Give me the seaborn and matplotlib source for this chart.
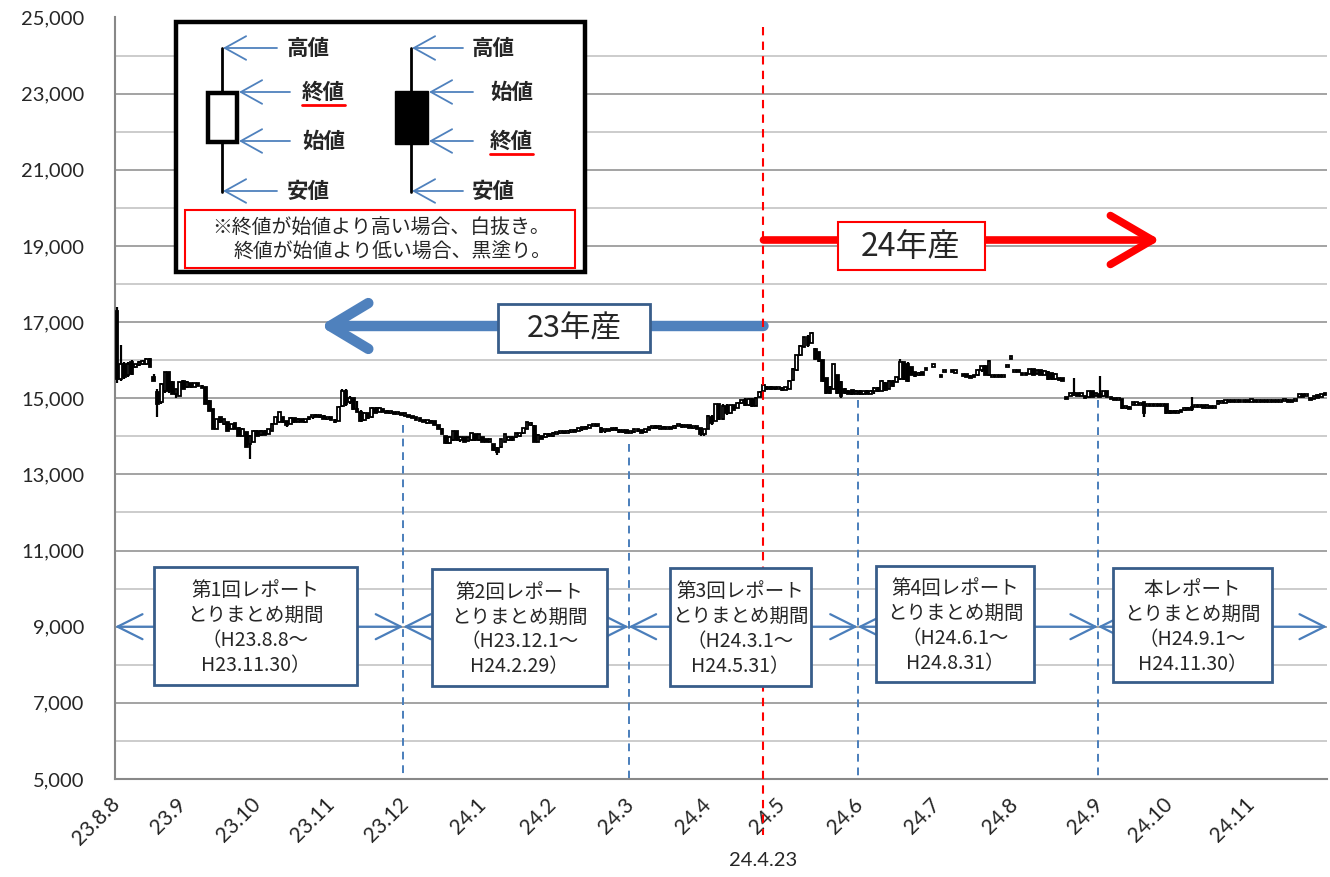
import numpy as np
import pandas as pd
import matplotlib
matplotlib.use("Agg")
import matplotlib.pyplot as plt
import seaborn as sns
from matplotlib.patches import Rectangle
from matplotlib.lines import Line2D
from matplotlib.transforms import blended_transform_factory
from matplotlib.ticker import FuncFormatter, MultipleLocator

# exchange holidays inside the period (weekends are skipped anyway)
holidays = ["2011-09-19", "2011-09-23", "2011-10-10", "2011-11-03", "2011-11-23",
            "2011-12-23", "2012-01-02", "2012-01-03", "2012-01-09", "2012-03-20",
            "2012-04-30", "2012-05-03", "2012-05-04", "2012-07-16", "2012-09-17",
            "2012-10-08", "2012-11-23"]

# daily (open, high, low, close), None = no trade that day
aug11 = [(17300, 17400, 15400, 15500), (15500, 16390, 15450, 15900), (15900, 15950, 15500, 15550),
         (15600, 15950, 15550, 15900), (15950, 16000, 15600, 15650), (15830, 15900, 15800, 15890),
         (15870, 15970, 15850, 15960), (15900, 16000, 15880, 15980), (15890, 16050, 15880, 16040),
         (16040, 16060, 15820, 15830), (15550, 15630, 15450, 15460), (15160, 15240, 14500, 14850),
         (14890, 15400, 14850, 15370), (15200, 15700, 15150, 15690), (15690, 15700, 15150, 15200),
         (15420, 15450, 15100, 15110), (15100, 15250, 15000, 15240), (15070, 15430, 15050, 15420)]
sep11 = [(15460, 15480, 15230, 15240), (15290, 15440, 15280, 15430), (15390, 15400, 15280, 15290),
         (15300, 15400, 15290, 15390), (15390, 15400, 15320, 15330), (15330, 15360, 15260, 15270),
         (15290, 15300, 14840, 14850), (14930, 14950, 14660, 14670), (14720, 14730, 14180, 14190),
         (14200, 14460, 14180, 14450), (14500, 14510, 14360, 14370), (14320, 14460, 14310, 14450),
         (14370, 14380, 14140, 14150), (14190, 14330, 14180, 14320), (14340, 14350, 14180, 14190),
         (14230, 14240, 14010, 14020), (14020, 14210, 14000, 14200), (14110, 14120, 13710, 13720),
         (13800, 14030, 13400, 14020), (13850, 14160, 13840, 14150)]
oct11 = [(14150, 14160, 14010, 14020), (14030, 14160, 14020, 14150), (14150, 14160, 14030, 14040),
         (14060, 14200, 14050, 14190), (14150, 14340, 14140, 14330), (14330, 14510, 14320, 14500),
         (14370, 14640, 14360, 14630), (14500, 14510, 14360, 14370), (14400, 14410, 14250, 14300),
         (14330, 14500, 14320, 14480), (14480, 14490, 14360, 14380), (14380, 14470, 14370, 14460),
         (14450, 14460, 14370, 14380), (14380, 14460, 14360, 14450), (14450, 14510, 14440, 14500),
         (14500, 14560, 14450, 14550), (14550, 14580, 14500, 14510), (14510, 14560, 14480, 14540),
         (14540, 14550, 14450, 14460), (14460, 14520, 14440, 14500)]
nov11 = [(14500, 14510, 14430, 14440), (14440, 14450, 14360, 14380), (14400, 14800, 14390, 14780),
         (14800, 15250, 14780, 15200), (15200, 15230, 14800, 14850), (14900, 15050, 14850, 15000),
         (15000, 15010, 14700, 14720), (14720, 14940, 14630, 14650), (14650, 14680, 14380, 14400),
         (14420, 14630, 14400, 14600), (14600, 14620, 14450, 14480), (14500, 14760, 14490, 14740),
         (14740, 14770, 14600, 14620), (14650, 14760, 14640, 14750), (14720, 14730, 14640, 14650),
         (14660, 14680, 14600, 14620), (14620, 14660, 14580, 14640), (14630, 14640, 14580, 14600),
         (14600, 14650, 14590, 14630), (14600, 14620, 14550, 14570)]
dec11 = [(14570, 14600, 14540, 14580), (14560, 14570, 14500, 14520), (14520, 14540, 14470, 14490),
         (14480, 14500, 14440, 14460), (14460, 14480, 14400, 14420), (14430, 14440, 14370, 14380),
         (14380, 14420, 14320, 14400), (14400, 14420, 14360, 14370), (14400, 14410, 14300, 14310),
         (14300, 14310, 14180, 14200), (14200, 14210, 14050, 14060), (14000, 14010, 13800, 13820),
         (13830, 14000, 13800, 13990), (13900, 14150, 13890, 14140), (14140, 14150, 13880, 13900),
         (13900, 14000, 13840, 13990), (13980, 13990, 13840, 13860), (13880, 13980, 13870, 13970),
         (13900, 14100, 13890, 14090), (14060, 14070, 13890, 13900), (13900, 14060, 13890, 14050)]
jan12 = [(13970, 13980, 13840, 13850), (13930, 13940, 13840, 13850), (13850, 13930, 13840, 13920),
         (13800, 13810, 13620, 13640), (13700, 13710, 13500, 13600), (13710, 13930, 13700, 13920),
         (13850, 14060, 13840, 14050), (13900, 14000, 13880, 13990), (13990, 14000, 13890, 13900),
         (13970, 14100, 13960, 14090), (14000, 14100, 13980, 14080), (14080, 14230, 14060, 14220),
         (14200, 14380, 14190, 14370), (14300, 14380, 14280, 14350), (14280, 14290, 13840, 13860),
         (13860, 14060, 13850, 14040), (14000, 14010, 13920, 13940), (13970, 14080, 13960, 14070),
         (14070, 14100, 13980, 14000)]
feb12 = [(14000, 14110, 13990, 14100), (14060, 14120, 14050, 14110), (14100, 14150, 14060, 14140),
         (14140, 14150, 14070, 14080), (14090, 14160, 14080, 14150), (14120, 14170, 14100, 14160),
         (14160, 14180, 14110, 14130), (14150, 14230, 14140, 14220), (14220, 14240, 14150, 14200),
         (14200, 14260, 14190, 14250), (14240, 14290, 14230, 14280), (14280, 14330, 14260, 14320),
         (14320, 14330, 14250, 14260), (14230, 14240, 14100, 14120), (14140, 14200, 14100, 14180),
         (14180, 14200, 14140, 14160), (14160, 14230, 14150, 14220), (14220, 14240, 14150, 14170),
         (14170, 14180, 14100, 14120), (14130, 14160, 14100, 14150), (14150, 14160, 14100, 14110)]
mar12 = [(14110, 14140, 14090, 14130), (14130, 14190, 14100, 14180), (14180, 14200, 14120, 14140),
         (14140, 14160, 14100, 14110), (14110, 14200, 14100, 14190), (14190, 14230, 14180, 14220),
         (14220, 14280, 14200, 14270), (14270, 14290, 14200, 14220), (14220, 14270, 14210, 14250),
         (14240, 14260, 14190, 14200), (14200, 14250, 14190, 14240), (14240, 14250, 14200, 14210),
         (14210, 14290, 14200, 14280), (14280, 14320, 14260, 14300), (14300, 14320, 14230, 14250),
         (14250, 14290, 14240, 14280), (14280, 14300, 14220, 14230), (14230, 14260, 14200, 14250),
         (14250, 14260, 14200, 14220), (14220, 14230, 14020, 14050), (14060, 14200, 14000, 14190)]
apr12 = [(14190, 14550, 14180, 14540), (14500, 14560, 14300, 14350), (14400, 14850, 14390, 14840),
         (14840, 14850, 14420, 14450), (14450, 14840, 14420, 14800), (14800, 14850, 14560, 14600),
         (14600, 14830, 14590, 14820), (14820, 14830, 14690, 14700), (14750, 14900, 14740, 14880),
         (14880, 14960, 14850, 14950), (14950, 15010, 14800, 14820), (14820, 15000, 14800, 14990),
         (14990, 15010, 14780, 14790), (14800, 15020, 14790, 15000), (15040, 15180, 15030, 15170),
         (15200, 15350, 15190, 15340), (15300, 15330, 15210, 15230), (15230, 15310, 15220, 15300),
         (15280, 15300, 15220, 15240), (15240, 15300, 15230, 15280)]
may12 = [(15260, 15290, 15200, 15220), (15220, 15300, 15210, 15290), (15250, 15470, 15240, 15460),
         (15470, 15790, 15460, 15780), (15730, 16140, 15720, 16130), (16130, 16400, 16100, 16380),
         (16350, 16620, 16340, 16600), (16600, 16650, 16350, 16400), (16450, 16740, 16440, 16720),
         (16300, 16320, 16000, 16020), (16210, 16220, 15950, 15970), (16000, 16010, 15430, 15450),
         (15520, 15530, 15110, 15130), (15300, 15310, 15120, 15140), (15250, 15910, 15240, 15900),
         (15600, 15620, 15120, 15140), (15430, 15450, 15000, 15050), (15250, 15260, 15110, 15130),
         (15200, 15210, 15110, 15120), (15210, 15220, 15080, 15100), (15120, 15210, 15100, 15200)]
jun12 = [(15200, 15210, 15080, 15100), (15100, 15200, 15090, 15180), (15180, 15210, 15100, 15120),
         (15120, 15220, 15110, 15200), (15200, 15300, 15120, 15280), (15280, 15290, 15170, 15200),
         (15200, 15470, 15190, 15450), (15400, 15420, 15200, 15220), (15250, 15470, 15240, 15460),
         (15450, 15480, 15300, 15320), (15430, 15560, 15420, 15550), (15500, 16040, 15490, 15950),
         (15950, 15960, 15470, 15500), (15900, 15950, 15430, 15460), (15820, 15830, 15600, 15620),
         (15690, 15700, 15560, 15580), (15600, 15690, 15580, 15670), (15680, 15700, 15600, 15620),
         (15760, 15800, 15750, 15780), None, (15860, 15870, 15850, 15860)]
jul12 = [None, (15580, 15590, 15570, 15580), (15720, 15740, 15710, 15730), None,
         (15710, 15720, 15690, 15710), (15700, 15720, 15690, 15700), None,
         (15620, 15630, 15590, 15600), (15600, 15610, 15580, 15590), (15560, 15600, 15530, 15550),
         (15560, 15620, 15550, 15600), (15600, 15760, 15590, 15750), (15750, 15860, 15700, 15850),
         (15850, 15870, 15600, 15620), (15600, 16000, 15590, 15990), (15580, 15590, 15570, 15580),
         (15580, 15590, 15570, 15580), (15580, 15590, 15570, 15580), (15580, 15590, 15570, 15580),
         (15840, 15850, 15830, 15840), (16070, 16080, 16060, 16070)]
aug12 = [(15720, 15730, 15710, 15720), (15720, 15730, 15700, 15710), (15650, 15660, 15600, 15610),
         (15620, 15660, 15600, 15650), (15650, 15780, 15640, 15770), (15770, 15780, 15600, 15620),
         (15640, 15740, 15630, 15730), (15730, 15740, 15600, 15610), (15620, 15730, 15610, 15720),
         (15700, 15720, 15480, 15500), (15660, 15670, 15480, 15500), (15500, 15660, 15490, 15650),
         (15530, 15540, 15470, 15490), (15500, 15520, 15470, 15480), (15010, 15020, 14990, 15000),
         (15060, 15150, 15050, 15140), (15150, 15530, 15060, 15080), (15140, 15150, 15060, 15070),
         (15070, 15150, 15060, 15140), (15060, 15070, 15000, 15010), (15020, 15190, 15010, 15180),
         (15180, 15190, 15020, 15040), (15060, 15150, 15050, 15140)]
sep12 = [(15100, 15580, 15020, 15050), (15050, 15190, 15040, 15180), (15180, 15190, 15020, 15040),
         (15020, 15030, 14980, 15000), (15000, 15010, 14950, 14960), (14980, 15000, 14950, 14990),
         (14970, 14980, 14720, 14740), (14740, 14800, 14720, 14790), (14760, 14800, 14720, 14730),
         (14840, 14890, 14830, 14880), (14860, 14870, 14850, 14860), (14850, 14880, 14840, 14850),
         (14890, 14900, 14500, 14600), (14830, 14840, 14820, 14830), (14830, 14840, 14820, 14830),
         (14830, 14840, 14820, 14830), (14830, 14840, 14820, 14830), (14830, 14840, 14820, 14830),
         (14850, 14860, 14590, 14600)]
oct12 = [(14620, 14680, 14590, 14660), (14660, 14680, 14600, 14610), (14620, 14680, 14610, 14670),
         (14670, 14680, 14640, 14650), (14680, 14760, 14670, 14750), (14740, 14760, 14700, 14710),
         (14720, 15030, 14670, 14760), (14780, 14830, 14770, 14820), (14800, 14830, 14790, 14810),
         (14790, 14810, 14760, 14780), (14780, 14800, 14760, 14790), (14790, 14800, 14740, 14750),
         (14750, 14800, 14740, 14790), (14860, 14950, 14850, 14940), (14900, 14950, 14890, 14910),
         (14900, 14950, 14890, 14930), (14920, 14950, 14900, 14940), (14930, 14950, 14900, 14910),
         (14910, 14950, 14900, 14940), (14940, 14950, 14910, 14920), (14920, 14950, 14910, 14940),
         (14940, 14960, 14920, 14930)]
nov12 = [(14930, 14960, 14920, 14950), (14950, 14960, 14910, 14920), (14920, 14960, 14910, 14950),
         (14940, 14960, 14920, 14930), (14930, 14950, 14900, 14920), (14920, 14960, 14910, 14950),
         (14940, 14960, 14920, 14930), (14930, 14950, 14900, 14920), (14920, 14950, 14900, 14940),
         (14940, 14970, 14920, 14960), (14950, 14970, 14900, 14910), (14910, 14950, 14890, 14940),
         (14940, 14970, 14920, 14960), (15050, 15100, 15040, 15090), (15080, 15100, 15050, 15060),
         (15060, 15110, 15050, 15100), (15000, 15010, 14950, 14960), (14980, 15070, 14970, 15060),
         (15060, 15120, 15020, 15030), (15050, 15110, 15040, 15100), (15100, 15150, 15090, 15140)]

tick_dates = ["2011-08-08", "2011-09-01", "2011-10-01", "2011-11-01", "2011-12-01", "2012-01-01",
              "2012-02-01", "2012-03-01", "2012-04-01", "2012-05-01", "2012-06-01", "2012-07-01",
              "2012-08-01", "2012-09-01", "2012-10-01", "2012-11-01"]
tick_labels = ["23.8.8", "23.9", "23.10", "23.11", "23.12", "24.1", "24.2", "24.3", "24.4",
               "24.5", "24.6", "24.7", "24.8", "24.9", "24.10", "24.11"]

period_starts = ["2011-12-01", "2012-03-01", "2012-06-01", "2012-09-01"]
period_line_tops = [14300, 13800, 14950, 14950]
period_texts = ["第1回レポート\nとりまとめ期間\n（H23.8.8～\nH23.11.30）",
                "第2回レポート\nとりまとめ期間\n（H23.12.1～\nH24.2.29）",
                "第3回レポート\nとりまとめ期間\n（H24.3.1～\nH24.5.31）",
                "第4回レポート\nとりまとめ期間\n（H24.6.1～\nH24.8.31）",
                "本レポート\nとりまとめ期間\n（H24.9.1～\nH24.11.30）"]
crop_switch_date = "2012-04-23"
crop_switch_label = "24.4.23"

months = [aug11, sep11, oct11, nov11, dec11, jan12, feb12, mar12, apr12,
          may12, jun12, jul12, aug12, sep12, oct12, nov12]
rows = [r if r is not None else (np.nan,) * 4 for m in months for r in m]
dates = pd.bdate_range("2011-08-08", "2012-11-30", freq="C", holidays=holidays)
df = pd.DataFrame(rows, columns=["open", "high", "low", "close"], index=dates[:len(rows)])
df["pos"] = np.arange(len(df))
n = len(df)

sns.set_style("white")
plt.rcParams["font.family"] = ["Noto Sans CJK JP", "DejaVu Sans"]
num_font = "Lato"

BLUE = "#4A7EBB"
DARKBLUE = "#385D8A"

fig = plt.figure(figsize=(13.3, 8.77), dpi=100)
ax = fig.add_axes([115 / 1330, 98 / 877, 1212 / 1330, 761.5 / 877])

# candles
d = df.dropna()
up = d["close"] >= d["open"]
ax.vlines(d["pos"], d["low"], d["high"], color="black", lw=1.6, zorder=3)
mid = (d["open"] + d["close"]) / 2
body = np.maximum((d["close"] - d["open"]).abs(), 60)
ax.bar(d["pos"], body, bottom=mid - body / 2, width=0.72,
       color=np.where(up, "white", "black"), edgecolor="black", lw=1.3, zorder=4)

ax.set_xlim(-0.5, n - 0.5)
ax.set_ylim(5000, 25000)
ax.set_yticks(range(5000, 25001, 2000))
ax.yaxis.set_minor_locator(MultipleLocator(1000))
ax.yaxis.set_major_formatter(FuncFormatter(lambda v, p: f"{int(v):,}"))
ax.grid(which="major", axis="y", color="#9c9c9c", lw=1.3)
ax.grid(which="minor", axis="y", color="#c8c8c8", lw=1.3)
ax.set_axisbelow(True)
ax.tick_params(axis="y", which="major", length=5, width=1.2, color="#888888", pad=17,
               labelsize=14.5)
ax.tick_params(axis="y", which="minor", length=0)
for lab in ax.get_yticklabels():
    lab.set_fontfamily(num_font)

tick_pos = dates.searchsorted(pd.to_datetime(tick_dates))
ax.set_xticks(tick_pos)
ax.set_xticklabels(tick_labels, rotation=45, ha="right", va="center",
                   rotation_mode="anchor", fontsize=15, fontfamily=num_font)
ax.tick_params(axis="x", length=0, pad=16)
sns.despine(ax=ax, top=True, right=True)
ax.spines["left"].set_color("#888888")
ax.spines["left"].set_linewidth(1.5)
ax.spines["bottom"].set_color("#888888")
ax.spines["bottom"].set_linewidth(1.5)

# overlay in figure pixels for the drawn shapes
ov = fig.add_axes([0, 0, 1, 1])
ov.set_xlim(0, 1330)
ov.set_ylim(877, 0)
ov.axis("off")
ov.patch.set_alpha(0)

x_data_y_px = blended_transform_factory(ax.transData, ov.transData)
x_px_y_data = blended_transform_factory(ov.transData, ax.transData)

# report periods: dashed boundaries
bounds = dates.searchsorted(pd.to_datetime(period_starts)) - 0.5
for b, top in zip(bounds, period_line_tops):
    ax.plot([b, b], [top, 5000], color=BLUE, lw=1.4, dashes=(4, 3), zorder=2)

# boxes along 9,000
boxes = [(154, 567, 357, 685), (432, 569, 607, 686), (670, 568, 811, 686),
         (876, 566, 1034, 682), (1113, 568, 1272, 682)]
for (x0, y0, x1, y1), txt in zip(boxes, period_texts):
    ov.add_patch(Rectangle((x0, y0), x1 - x0, y1 - y0, fc="white", ec=DARKBLUE, lw=2, zorder=5))
    ov.text((x0 + x1) / 2, (y0 + y1) / 2 + 2, txt, ha="center", va="center",
            fontsize=14, linespacing=1.25, zorder=6)

edges = [-0.5] + list(bounds) + [n - 0.5]
head = dict(arrowstyle="->,head_length=0.9,head_width=0.45", color=BLUE, lw=1.6,
            shrinkA=0, shrinkB=0, mutation_scale=20)
for i, (x0, y0, x1, y1) in enumerate(boxes):
    ax.annotate("", xy=(edges[i], 9000), xycoords="data",
                xytext=(x0, 9000), textcoords=x_px_y_data, arrowprops=head, annotation_clip=False)
    ax.annotate("", xy=(edges[i + 1], 9000), xycoords="data",
                xytext=(x1, 9000), textcoords=x_px_y_data, arrowprops=head, annotation_clip=False)

# 24.4.23 switch line and crop-year arrows
sw = dates.searchsorted(pd.Timestamp(crop_switch_date))
ax.add_line(Line2D([sw, sw], [27, 835], transform=x_data_y_px, color="#FF0000", lw=1.5,
                   dashes=(4, 3), clip_on=False, zorder=6))
ax.text(sw, 860, crop_switch_label, transform=x_data_y_px, ha="center", va="center",
        fontsize=14.5, fontfamily=num_font)

ax.annotate("", xy=(1160, 240), xycoords=ov.transData, xytext=(sw, 240),
            textcoords=x_data_y_px, annotation_clip=False,
            arrowprops=dict(arrowstyle="->,head_length=0.55,head_width=0.32", color="#FF0000",
                            lw=5.5, shrinkA=0, shrinkB=0, mutation_scale=55,
                            capstyle="round", joinstyle="round"))
ax.annotate("", xy=(320, 326), xycoords=ov.transData, xytext=(sw, 326),
            textcoords=x_data_y_px, annotation_clip=False,
            arrowprops=dict(arrowstyle="->,head_length=0.5,head_width=0.3", color="#4F81BD",
                            lw=7.5, shrinkA=0, shrinkB=0, mutation_scale=55,
                            capstyle="round", joinstyle="round"))
ov.add_patch(Rectangle((838, 222), 147, 48, fc="white", ec="#FF0000", lw=1.5, zorder=5))
ov.text(911, 247, "24年産", ha="center", va="center", fontsize=23, zorder=6)
ov.add_patch(Rectangle((498, 304), 152, 48, fc="white", ec=DARKBLUE, lw=2, zorder=5))
ov.text(574, 329, "23年産", ha="center", va="center", fontsize=22, zorder=6)

# candle legend panel
ov.add_patch(Rectangle((176, 22), 409, 250, fc="white", ec="black", lw=3.2, zorder=5))
for wx in (222, 411):
    ov.add_line(Line2D([wx, wx], [48, 192], color="black", lw=2, zorder=6))
ov.add_patch(Rectangle((208, 93), 29, 49, fc="white", ec="black", lw=3.2, zorder=7))
ov.add_patch(Rectangle((395, 91), 33, 53, fc="black", ec="black", lw=1, zorder=7))

small = dict(arrowstyle="->,head_length=0.9,head_width=0.5", color="#4F81BD", lw=1.3,
             shrinkA=0, shrinkB=0, mutation_scale=17)
legend_items = [(277, 223, 48, 287, "高値"), (290, 239, 92, 302, "終値"),
                (290, 239, 141, 302, "始値"), (277, 223, 191, 287, "安値"),
                (463, 412, 48, 472, "高値"), (473, 429, 92, 490, "始値"),
                (473, 429, 141, 490, "終値"), (463, 412, 191, 472, "安値")]
for xs, xe, yy, tx, txt in legend_items:
    ov.annotate("", xy=(xe, yy), xytext=(xs, yy), arrowprops=small, zorder=8)
    ov.text(tx, yy, txt, ha="left", va="center", fontsize=15.5, fontweight="bold", zorder=8)
for ux, uy in ((302, 105), (490, 154)):
    ov.add_line(Line2D([ux, ux + 43], [uy, uy], color="#FF0000", lw=2, zorder=8))

ov.add_patch(Rectangle((185, 210), 390, 58, fc="white", ec="#FF0000", lw=1.5, zorder=6))
ov.text(212, 228, "※終値が始値より高い場合、白抜き。", ha="left", va="center", fontsize=14.3, zorder=8)
ov.text(234, 252, "終値が始値より低い場合、黒塗り。", ha="left", va="center", fontsize=14.3, zorder=8)

fig.savefig("out.png", dpi=100)
